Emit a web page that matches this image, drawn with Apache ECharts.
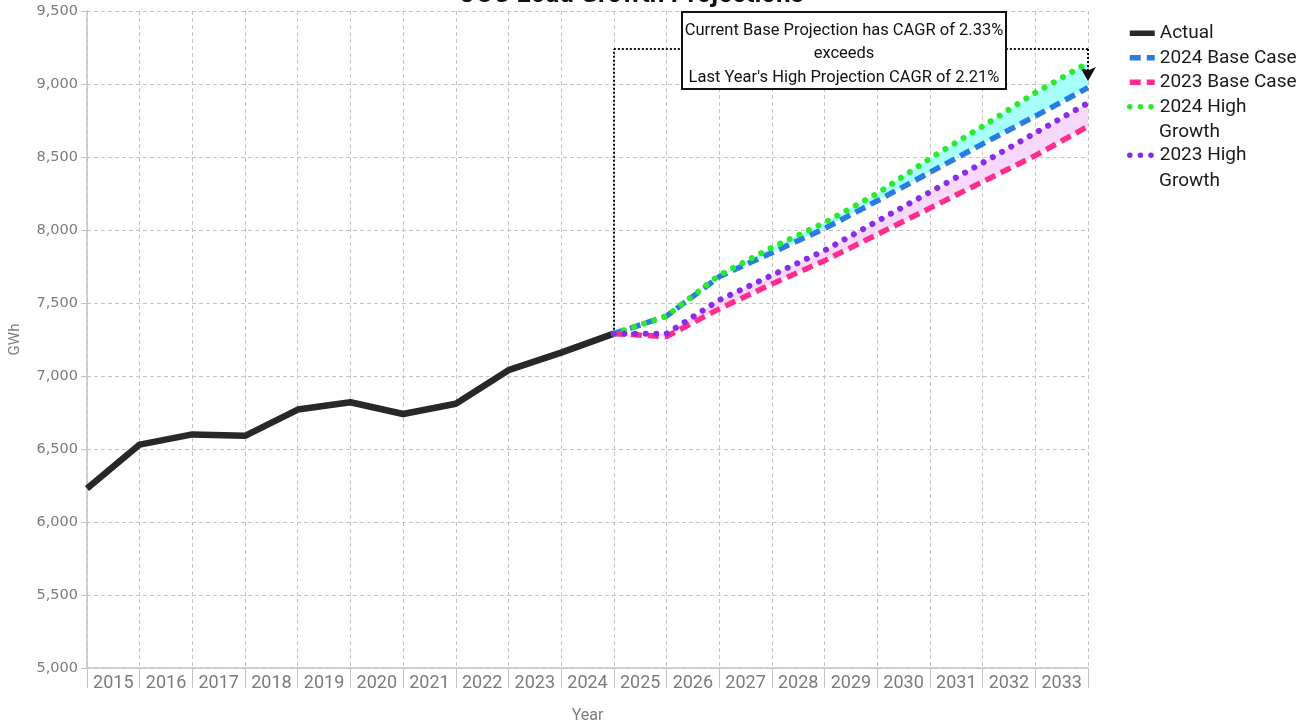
<!DOCTYPE html>
<html>
<head>
<meta charset="utf-8">
<title>OUC Load Growth Projections</title>
<script src="https://cdn.jsdelivr.net/npm/echarts@6/dist/echarts.min.js"></script>
<style>
  html, body { margin: 0; padding: 0; background: #fff; }
  #chart { width: 1303px; height: 723px; }
</style>
</head>
<body>
<div id="chart"></div>
<script>
// points sit on the year boundaries, labels sit in the middle of each year
const pointYears = ['2015', '2016', '2017', '2018', '2019', '2020', '2021', '2022', '2023', '2024',
  '2025', '2026', '2027', '2028', '2029', '2030', '2031', '2032', '2033', '2034']
const yearLabels = ['2015', '2016', '2017', '2018', '2019', '2020', '2021', '2022', '2023', '2024',
  '2025', '2026', '2027', '2028', '2029', '2030', '2031', '2032', '2033']

const actual = [6230, 6530, 6600, 6590, 6770, 6820, 6740, 6810, 7040, 7160, 7290]
const base2024 = [null, null, null, null, null, null, null, null, null, null,
  7290, 7410, 7680, 7845, 8010, 8200, 8395, 8590, 8780, 8975]
const base2023 = [null, null, null, null, null, null, null, null, null, null,
  7290, 7270, 7460, 7630, 7790, 7970, 8150, 8330, 8510, 8710]
const high2024 = [null, null, null, null, null, null, null, null, null, null,
  7290, 7410, 7690, 7880, 8050, 8250, 8490, 8710, 8940, 9145]
const high2023 = [null, null, null, null, null, null, null, null, null, null,
  7290, 7290, 7520, 7690, 7860, 8060, 8260, 8460, 8665, 8870]

const yMin = 5000
const yMax = 9500
const yStep = 500

// annotation connector
const calloutTop = 9240
const arrowEnd = 9020
const calloutLines = [
  'Current Base Projection has CAGR of 2.33%',
  'exceeds',
  "Last Year's High Projection CAGR of 2.21%"
]

const gray = '#7b7b7b'
const gridGray = '#c4c4c4'
const font = 'Roboto, "Noto Sans", sans-serif'

// band = upper - lower, stacked on the lower line
const diff = (upper, lower) => upper.map((v, i) => (v == null || lower[i] == null ? null : v - lower[i]))

const dots = (name, color, data) => ({
  name: name,
  type: 'line',
  data: data,
  symbol: 'none',
  z: 6,
  lineStyle: { color: color, width: 6, type: [0.1, 10.5], cap: 'round' },
  itemStyle: { color: color }
})
const dashes = (name, color, data) => ({
  name: name,
  type: 'line',
  data: data,
  symbol: 'none',
  z: 5,
  lineStyle: { color: color, width: 5.5, type: [11, 6] },
  itemStyle: { color: color }
})
const band = (stack, lower, upper, color) => ([
  {
    type: 'line',
    stack: stack,
    data: lower,
    symbol: 'none',
    silent: true,
    lineStyle: { opacity: 0 },
    z: 1
  },
  {
    type: 'line',
    stack: stack,
    data: diff(upper, lower),
    symbol: 'none',
    silent: true,
    lineStyle: { opacity: 0 },
    areaStyle: { color: color, opacity: 1 },
    z: 1
  }
])

const legendBase = {
  orient: 'vertical',
  left: 1127,
  padding: 0,
  itemGap: 0,
  itemWidth: 25,
  itemHeight: 12,
  selectedMode: false,
  itemStyle: { opacity: 0 },
  lineStyle: { width: 5.5 },
  formatter: (name) => name.replace(' Growth', ''),
  textStyle: { fontFamily: font, fontSize: 19, color: '#1a1a1a', lineHeight: 24.5 }
}

const chart = echarts.init(document.getElementById('chart'))

const option = {
  animation: false,
  backgroundColor: '#fff',
  title: {
    text: 'OUC Load Growth Projections',
    left: 626,
    top: -23,
    textAlign: 'center',
    textStyle: { fontFamily: font, fontSize: 26, fontWeight: 'bold', color: '#111' }
  },
  grid: { left: 87, right: 215, top: 11, bottom: 55, outerBoundsMode: 'none' },
  legend: [
    Object.assign({}, legendBase, {
      top: 21,
      data: ['Actual', '2024 Base Case', '2023 Base Case', '2024 High Growth']
    }),
    Object.assign({}, legendBase, {
      top: 143,
      data: ['2023 High Growth']
    })
  ],
  xAxis: [
    {
      type: 'category',
      data: pointYears,
      boundaryGap: false,
      axisLine: { show: false },
      axisTick: { show: false },
      axisLabel: { show: false },
      splitLine: { show: false }
    },
    {
      type: 'category',
      data: yearLabels,
      boundaryGap: true,
      position: 'bottom',
      name: 'Year',
      nameLocation: 'middle',
      nameGap: 40,
      nameTextStyle: { fontFamily: font, fontSize: 16, color: gray },
      axisLine: { show: true, lineStyle: { color: gridGray, width: 1.5 } },
      axisTick: { show: true, length: 20, lineStyle: { color: gridGray } },
      axisLabel: { margin: 6, fontFamily: font, fontSize: 18, color: gray, interval: 0 },
      splitLine: { show: true, lineStyle: { color: gridGray, type: [4, 3] } }
    }
  ],
  yAxis: {
    type: 'value',
    min: yMin,
    max: yMax,
    interval: yStep,
    name: 'GWh',
    nameLocation: 'middle',
    nameGap: 64,
    nameTextStyle: { fontFamily: font, fontSize: 15, color: gray },
    axisLine: { show: true, lineStyle: { color: gridGray, width: 1.5 } },
    axisTick: { show: true, length: 6, lineStyle: { color: gridGray } },
    axisLabel: {
      margin: 9,
      fontFamily: '"DejaVu Sans", sans-serif',
      fontSize: 14.5,
      color: gray,
      formatter: (v) => v.toLocaleString('en-US')
    },
    splitLine: { show: true, lineStyle: { color: gridGray, type: [4, 3] } }
  },
  series: [
    ...band('hi24', base2024, high2024, '#a6fffa'),
    ...band('hi23', base2023, high2023, '#f6d8fb'),
    {
      name: 'Actual',
      type: 'line',
      data: actual,
      symbol: 'none',
      z: 4,
      lineStyle: { color: '#282828', width: 6.5 },
      itemStyle: { color: '#282828' },
      markLine: {
        silent: true,
        symbol: ['none', 'none'],
        symbolSize: [12, 14],
        label: { show: false },
        lineStyle: { color: '#111', width: 2, type: [2, 2] },
        data: [
          [{ coord: [pointYears[10], actual[10]] }, { coord: [pointYears[10], calloutTop] }],
          [{ coord: [pointYears[10], calloutTop] }, { coord: [pointYears[19], calloutTop] }],
          [{ coord: [pointYears[19], calloutTop] }, { coord: [pointYears[19], arrowEnd], symbol: 'arrow' }]
        ]
      }
    },
    dashes('2024 Base Case', '#2a7be4', base2024),
    dashes('2023 Base Case', '#ff2d8e', base2023),
    dots('2024 High Growth', '#2ee82e', high2024),
    dots('2023 High Growth', '#8a2be8', high2023)
  ],
  graphic: [
    {
      type: 'rect',
      z: 100,
      shape: { x: 682, y: 12, width: 324, height: 77 },
      style: { fill: '#fff', stroke: '#111', lineWidth: 2 }
    },
    {
      type: 'text',
      z: 101,
      x: 844,
      y: 19,
      style: {
        text: calloutLines.join('\n'),
        fontFamily: font,
        fontSize: 16.5,
        lineHeight: 23.5,
        fill: '#111',
        align: 'center'
      }
    },
    {
      type: 'text',
      x: 1159,
      y: 123,
      style: { text: 'Growth', fontFamily: font, fontSize: 19, fill: '#1a1a1a' }
    },
    {
      type: 'text',
      x: 1159,
      y: 172,
      style: { text: 'Growth', fontFamily: font, fontSize: 19, fill: '#1a1a1a' }
    }
  ]
}

chart.setOption(option)
</script>
</body>
</html>
